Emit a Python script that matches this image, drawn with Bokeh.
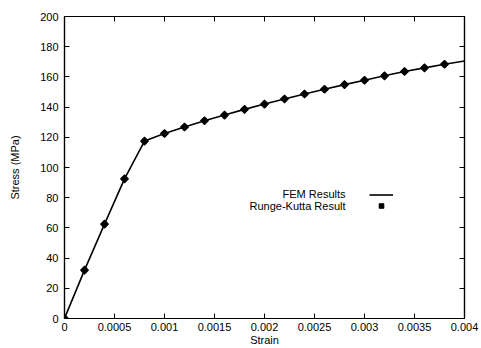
from bokeh.plotting import figure
from bokeh.models import LinearAxis, FixedTicker, Legend, LegendItem, Label, Range1d
from bokeh.embed import file_html
from bokeh.resources import INLINE
import math

# data
rk_strain = [0, 0.0002, 0.0004, 0.0006, 0.0008, 0.0010, 0.0012, 0.0014, 0.0016, 0.0018,
             0.0020, 0.0022, 0.0024, 0.0026, 0.0028, 0.0030, 0.0032, 0.0034, 0.0036, 0.0038]
rk_stress = [0, 32, 62.5, 92.5, 117.5, 122.5, 126.8, 131, 134.7, 138.5,
             142, 145.4, 148.7, 151.8, 154.9, 157.8, 160.7, 163.6, 166, 168.4]
fem_strain = rk_strain + [0.0040]
fem_stress = rk_stress + [170.5]

x_ticks = [0, 0.0005, 0.001, 0.0015, 0.002, 0.0025, 0.003, 0.0035, 0.004]
x_tick_labels = ["0", "0.0005", "0.001", "0.0015", "0.002", "0.0025", "0.003", "0.0035", "0.004"]
y_ticks = [0, 20, 40, 60, 80, 100, 120, 140, 160, 180, 200]

FONT = "Liberation Sans"

p = figure(width=481, height=348, output_backend="svg", toolbar_location=None,
           x_range=Range1d(0, 0.004), y_range=Range1d(0, 200),
           x_axis_location=None, y_axis_location=None,
           min_border_left=64, min_border_right=17, min_border_top=16, min_border_bottom=29)
p.background_fill_color = "white"
p.border_fill_color = "white"
p.outline_line_color = "black"
p.outline_line_width = 1.2
p.xgrid.visible = False
p.ygrid.visible = False

def style(ax):
    ax.major_tick_in = 5
    ax.major_tick_out = 0
    ax.minor_tick_in = 0
    ax.minor_tick_out = 0
    ax.axis_line_color = "black"
    ax.axis_line_width = 1.2
    ax.major_tick_line_color = "black"
    ax.major_tick_line_width = 1
    ax.major_label_text_font = FONT
    ax.major_label_text_font_size = "11px"
    ax.major_label_text_color = "black"
    ax.axis_label_text_font = FONT
    ax.axis_label_text_font_size = "11px"
    ax.axis_label_text_font_style = "normal"
    ax.axis_label_text_color = "black"

xb = LinearAxis(ticker=FixedTicker(ticks=x_ticks), axis_label="Strain",
                major_label_overrides={t: s for t, s in zip(x_ticks, x_tick_labels)})
style(xb)
xb.major_label_standoff = 4
xb.axis_label_standoff = 0
p.add_layout(xb, "below")

xt = LinearAxis(ticker=FixedTicker(ticks=x_ticks),
                major_label_overrides={t: "" for t in x_ticks})
style(xt)
xt.major_label_standoff = 0
p.add_layout(xt, "above")

yl = LinearAxis(ticker=FixedTicker(ticks=y_ticks), axis_label="Stress (MPa)")
style(yl)
yl.major_label_standoff = 6
yl.axis_label_standoff = 16
p.add_layout(yl, "left")

yr = LinearAxis(ticker=FixedTicker(ticks=y_ticks),
                major_label_overrides={t: "" for t in y_ticks})
style(yr)
yr.major_label_standoff = 0
p.add_layout(yr, "right")

fem = p.line(fem_strain, fem_stress, line_color="black", line_width=1.6)
rk = p.scatter(rk_strain, rk_stress, marker="square", size=5.5, angle=math.pi / 4,
               fill_color="black", line_color="black", line_width=1.2)

legend = Legend(items=[LegendItem(label=" ", renderers=[fem]),
                       LegendItem(label=" ", renderers=[rk])],
                location=(305, 107), orientation="vertical",
                padding=0, margin=0, spacing=0, label_standoff=0,
                glyph_width=24, glyph_height=11, label_height=11, label_width=1,
                label_text_font_size="9px", border_line_alpha=0,
                background_fill_alpha=0)
p.add_layout(legend, "center")

p.add_layout(Label(x=0.00281, y=82.5, text="FEM Results", text_align="right",
                   text_baseline="middle", text_font=FONT, text_font_size="11px",
                   text_color="black"))
p.add_layout(Label(x=0.00281, y=74.8, text="Runge-Kutta Result", text_align="right",
                   text_baseline="middle", text_font=FONT, text_font_size="11px",
                   text_color="black"))

open("out.html", "w").write(file_html(p, INLINE))
